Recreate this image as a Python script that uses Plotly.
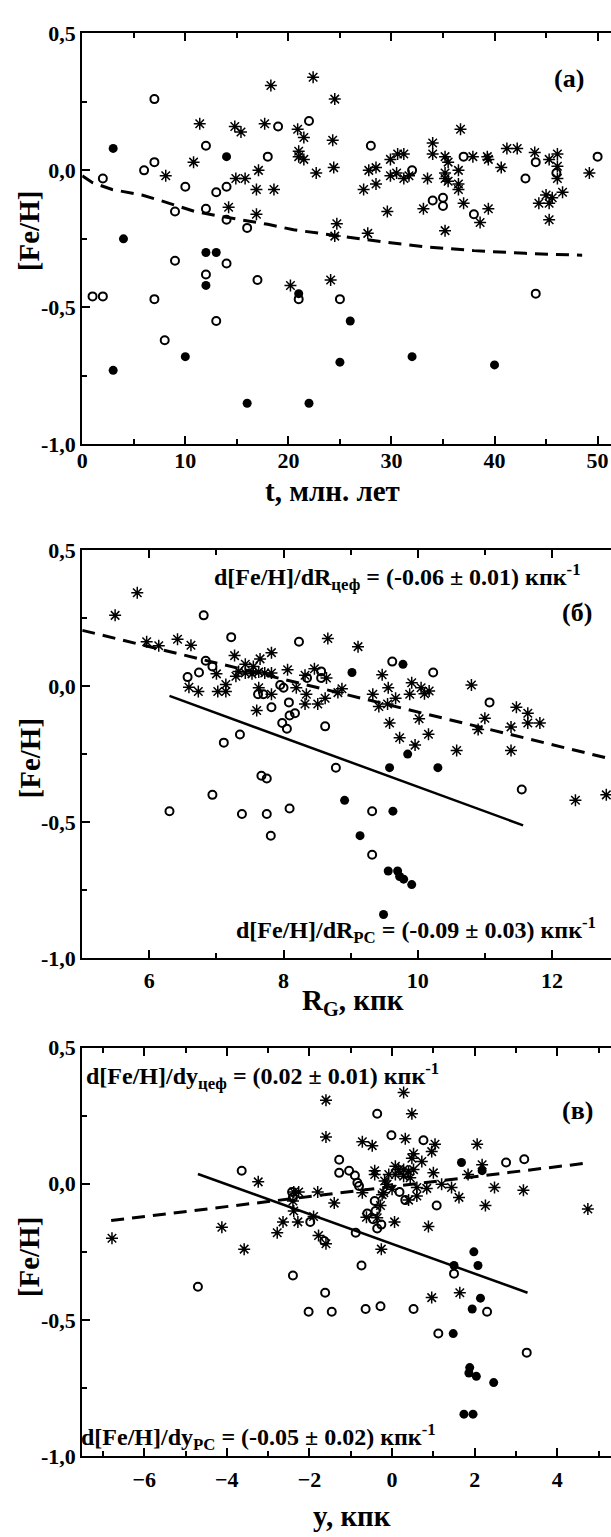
import plotly.graph_objects as go
from plotly.subplots import make_subplots

# ---------------- data ----------------
# panel (a): [Fe/H] against age t (Myr)
a_open_t = [7, 2, 6, 7, 12, 10, 13, 14, 18, 19, 22, 9, 12, 14, 16, 9, 12, 14, 17, 1, 2, 7, 13, 8,
            21, 25, 28, 32, 37, 34, 35, 35, 38, 43, 44, 46, 50, 44]
a_open_fe = [0.26, -0.03, 0.0, 0.03, 0.09, -0.06, -0.08, -0.06, 0.05, 0.16, 0.18, -0.15, -0.14, -0.18,
             -0.21, -0.33, -0.38, -0.34, -0.40, -0.46, -0.46, -0.47, -0.55, -0.62, -0.47, -0.47, 0.09,
             0.0, 0.05, -0.11, -0.10, -0.13, -0.16, -0.03, 0.03, -0.01, 0.05, -0.45]
a_fill_t = [3, 14, 4, 12, 13, 12, 21, 3, 10, 25, 16, 22, 26, 32, 40]
a_fill_fe = [0.08, 0.05, -0.25, -0.30, -0.30, -0.42, -0.45, -0.73, -0.68, -0.70, -0.85, -0.85, -0.55,
             -0.68, -0.71]
a_star_t = [18.3, 22.4, 24.5, 11.4, 14.8, 15.4, 17.7, 20.9, 21.5, 24.3, 10.8, 8.1, 17.1, 14.9, 15.8,
            16.9, 18.6, 21.0, 21.0, 21.5, 22.7, 24.4, 14.2, 16.9, 24.7, 24.5, 20.2, 24.1,
            36.7, 34.0, 34.0, 29.9, 30.6, 31.2, 35.2, 35.5, 37.9, 39.3, 39.4, 41.2, 42.2, 43.9, 45.3,
            46.1, 46.1, 27.8, 28.5, 28.5, 27.3, 29.9, 30.5, 31.2, 31.7, 33.5, 35.2, 35.2, 35.5, 36.5,
            36.5, 36.5, 37.0, 40.65, 39.4, 38.6, 29.6, 33.1, 35.2, 44.3, 45.0, 45.3, 45.6, 46.6, 45.3,
            46.1, 49.2, 27.7]
a_star_fe = [0.31, 0.34, 0.26, 0.17, 0.16, 0.14, 0.17, 0.15, 0.12, 0.11, 0.03, -0.02, 0.0, -0.03, -0.03,
             -0.07, -0.07, 0.07, 0.05, 0.04, -0.01, 0.01, -0.135, -0.16, -0.195, -0.24, -0.42, -0.40,
             0.15, 0.10, 0.06, 0.04, 0.06, 0.06, 0.05, 0.03, 0.05, 0.05, 0.04, 0.08, 0.08, 0.065, 0.04,
             0.06, 0.015, 0.0, 0.01, -0.05, -0.07, -0.02, -0.01, -0.03, -0.02, -0.03, -0.01, -0.03,
             -0.04, 0.0, -0.05, -0.07, -0.12, 0.01, -0.14, -0.19, -0.15, -0.14, -0.22, -0.12, -0.09,
             -0.12, -0.10, -0.08, -0.18, -0.03, -0.01, -0.23]
a_fit_t = [0, 1, 2.9, 5.8, 8.0, 10.9, 13, 15.2, 18, 20.5, 23, 25.5, 29, 33, 38, 43, 48.5]
a_fit_fe = [-0.02, -0.045, -0.07, -0.09, -0.115, -0.15, -0.165, -0.18, -0.197, -0.217, -0.23, -0.243,
            -0.26, -0.278, -0.293, -0.303, -0.31]

# panel (б): [Fe/H] against galactocentric distance R_G (kpc)
b_open_r = [6.81, 7.22, 8.23, 6.84, 6.74, 6.57, 6.94, 7.62, 7.70, 7.82, 7.95, 8.0, 8.08, 8.17, 8.09,
            7.98, 8.05, 8.35, 8.56, 8.56, 8.62, 7.35, 7.11, 8.78, 7.67, 7.75, 6.94, 6.30, 7.38, 7.75,
            8.09, 7.81, 9.62, 10.23, 11.07, 11.55, 9.32, 9.32]
b_open_fe = [0.26, 0.18, 0.163, 0.093, 0.05, 0.033, 0.072, -0.03, -0.03, -0.078, 0.004, -0.006, -0.06,
             -0.10, -0.108, -0.136, -0.157, 0.03, 0.03, 0.054, -0.148, -0.178, -0.208, -0.30, -0.33,
             -0.34, -0.40, -0.46, -0.47, -0.47, -0.45, -0.55, 0.09, 0.05, -0.06, -0.38, -0.46, -0.62]
b_fill_r = [9.02, 9.78, 9.85, 9.58, 10.30, 8.91, 9.63, 9.14, 9.56, 9.70, 9.73, 9.79, 9.91, 9.49]
b_fill_fe = [0.05, 0.08, -0.25, -0.30, -0.30, -0.42, -0.46, -0.55, -0.68, -0.68, -0.70, -0.71, -0.73,
             -0.84]
b_star_r = [5.49, 5.82, 5.96, 6.14, 6.42, 6.62, 6.59, 6.73, 7.0, 7.02, 7.14, 7.14, 7.27, 7.43, 7.33,
            7.55, 7.65, 7.82, 7.43, 7.53, 7.63, 7.72, 7.82, 7.29, 7.63, 7.60, 7.82, 8.06, 8.19, 8.32,
            8.34, 8.32, 8.46, 8.51, 8.64, 8.62, 8.66, 8.81, 8.87, 9.11, 9.47, 9.56, 9.33, 9.42, 9.55,
            9.67, 9.58, 9.73, 9.88, 9.91, 10.05, 10.10, 10.17, 10.02, 10.16, 9.96, 10.58, 10.80, 11.0,
            10.90, 11.39, 11.47, 11.64, 11.64, 11.82, 11.39, 12.35, 12.81]
b_star_fe = [0.26, 0.343, 0.163, 0.148, 0.172, 0.15, -0.004, -0.02, 0.045, -0.02, -0.02, 0.006, 0.112,
             0.08, 0.054, 0.072, 0.10, 0.123, 0.048, 0.045, 0.052, 0.048, 0.048, 0.036, -0.006, -0.09,
             -0.03, 0.06, -0.006, 0.04, -0.03, -0.066, 0.064, -0.066, 0.03, -0.045, 0.175, -0.024,
             -0.01, 0.145, 0.042, -0.006, -0.03, -0.075, -0.066, -0.045, -0.136, -0.19, -0.03, 0.012,
             -0.006, -0.028, -0.018, -0.12, -0.177, -0.217, -0.237, 0.004, -0.118, -0.16, -0.15,
             -0.078, -0.10, -0.136, -0.136, -0.237, -0.42, -0.40]
b_ceph_fit_r = [5.0, 12.88]
b_ceph_fit_fe = [0.205, -0.268]
b_oc_fit_r = [6.30, 11.57]
b_oc_fit_fe = [-0.036, -0.512]

# panel (в): [Fe/H] against y (kpc)
c_open_y = [-3.64, -1.28, -1.28, -2.42, -2.40, -1.98, -1.64, -2.40, -4.70, -1.62, -2.02, -1.46, -0.36,
            -0.016, 0.76, 2.76, 3.2, -1.04, -0.9, -0.84, -0.8, -0.42, -0.6, -0.4, -0.46, -0.36, -0.26,
            -0.88, 0.18, 0.32, 1.08, -0.74, 1.5, -0.64, -0.28, 0.52, 2.3, 1.12, 3.26]
c_open_fe = [0.048, 0.088, 0.04, -0.03, -0.05, -0.14, -0.21, -0.337, -0.378, -0.40, -0.47, -0.47, 0.257,
             0.178, 0.16, 0.078, 0.09, 0.048, 0.03, 0.004, -0.008, -0.063, -0.109, -0.10, -0.13,
             -0.164, -0.15, -0.18, -0.03, -0.06, -0.08, -0.30, -0.33, -0.46, -0.45, -0.46, -0.47,
             -0.55, -0.62]
c_fill_y = [1.68, 2.18, 1.98, 2.08, 1.5, 2.14, 1.94, 1.48, 1.88, 1.86, 2.04, 2.46, 1.74, 1.96]
c_fill_fe = [0.078, 0.048, -0.25, -0.30, -0.30, -0.42, -0.46, -0.55, -0.675, -0.695, -0.707, -0.73,
             -0.846, -0.846]
c_star_y = [-1.6, -1.6, -3.24, -6.78, -4.12, -3.58, -2.78, -2.64, -2.4, -2.38, -2.26, -2.38, -2.28, -1.90,
            -1.8, -1.78, -1.6, -1.4, 0.28, 0.48, -0.72, -0.48, 0.32, 1.04, 2.06, 0.96, 0.52, 0.48, 0.72,
            -0.42, -0.42, -0.08, 0.08, 0.16, 0.28, 0.4, 0.52, 0.08, 0.28, 0.44, -0.12, -0.18, 0.0, -0.2,
            -0.72, 0.6, 0.84, 1.0, 1.2, 1.44, 1.62, 1.84, 2.18, 2.48, 2.26, 3.18, 0.4, 0.6, -0.24,
            -0.28, -0.36, 0.06, 0.88, -0.26, 0.96, 1.64, 4.74, -0.62]
c_star_fe = [0.307, 0.172, 0.007, -0.20, -0.16, -0.24, -0.18, -0.14, -0.063, -0.03, -0.03, -0.10, -0.14,
             -0.12, -0.03, -0.19, -0.22, -0.071, 0.335, 0.257, 0.154, 0.14, 0.165, 0.145, 0.145, 0.118,
             0.11, 0.094, 0.082, 0.048, 0.034, 0.034, 0.064, 0.052, 0.052, 0.046, 0.052, 0.034, 0.028,
             0.022, -0.002, 0.01, -0.02, -0.033, -0.033, -0.014, -0.017, 0.04, -0.002, -0.014, -0.05,
             0.034, 0.07, -0.014, -0.08, -0.024, -0.06, -0.045, -0.04, -0.08, -0.125, -0.14, -0.157,
             -0.24, -0.418, -0.40, -0.093, -0.123]
c_ceph_fit_y = [-6.8, 4.72]
c_ceph_fit_fe = [-0.135, 0.076]
c_oc_fit_y = [-4.70, 3.28]
c_oc_fit_fe = [0.036, -0.40]

fe_ticks = [-1.0, -0.5, 0.0, 0.5]
fe_ticktext = ['-1,0', '-0,5', '0,0', '0,5']

# ---------------- figure ----------------
W, H = 611, 1537
FONT = 'Liberation Serif, Times New Roman, serif'

fig = make_subplots(rows=3, cols=1)

open_marker = dict(symbol='circle-open', size=8, color='black', line=dict(color='black', width=2))
fill_marker = dict(symbol='circle', size=9, color='black')
star_marker = dict(symbol='asterisk-open', size=10, color='black', line=dict(color='black', width=1.5))
dash_line = dict(color='black', width=3, dash='13px,8px')
solid_line = dict(color='black', width=2.5)

panels = [
    (1, a_open_t, a_open_fe, a_fill_t, a_fill_fe, a_star_t, a_star_fe),
    (2, b_open_r, b_open_fe, b_fill_r, b_fill_fe, b_star_r, b_star_fe),
    (3, c_open_y, c_open_fe, c_fill_y, c_fill_fe, c_star_y, c_star_fe),
]
for row, ox, oy, fx, fy, sx, sy in panels:
    fig.add_trace(go.Scatter(x=sx, y=sy, mode='markers', marker=star_marker), row=row, col=1)
    fig.add_trace(go.Scatter(x=ox, y=oy, mode='markers', marker=open_marker), row=row, col=1)
    fig.add_trace(go.Scatter(x=fx, y=fy, mode='markers', marker=fill_marker), row=row, col=1)

# fitted lines
fig.add_trace(go.Scatter(x=a_fit_t, y=a_fit_fe, mode='lines', line=dash_line), row=1, col=1)
fig.add_trace(go.Scatter(x=b_ceph_fit_r, y=b_ceph_fit_fe, mode='lines', line=dash_line), row=2, col=1)
fig.add_trace(go.Scatter(x=b_oc_fit_r, y=b_oc_fit_fe, mode='lines', line=solid_line), row=2, col=1)
fig.add_trace(go.Scatter(x=c_ceph_fit_y, y=c_ceph_fit_fe, mode='lines', line=dash_line), row=3, col=1)
fig.add_trace(go.Scatter(x=c_oc_fit_y, y=c_oc_fit_fe, mode='lines', line=solid_line), row=3, col=1)

# axes: pixel positions of the frames measured on the picture
x_dom = [77 / W, 1.0]
y_doms = [[1 - 439.5 / H, 1 - 21.7 / H],
          [1 - 961.7 / H, 1 - 547 / H],
          [1 - 1468 / H, 1 - 1052.7 / H]]
x_ranges = [[0, 51.3], [5, 12.88], [-7.5, 5.3]]
x_dticks = [(10, 5), (2, 1), (2, 1)]
x_standoff = [-5, 2, 2]

axis_common = dict(showline=True, linewidth=2, linecolor='black', ticks='inside', ticklen=8,
                   tickwidth=2, tickcolor='black', showgrid=False, zeroline=False)

for i in range(3):
    fig.update_xaxes(row=i + 1, col=1, domain=x_dom, range=x_ranges[i], mirror='ticks',
                     tick0=0, dtick=x_dticks[i][0], ticklabelstandoff=x_standoff[i],
                     minor=dict(ticks='inside', ticklen=5, tickwidth=1.5, tickcolor='black',
                                tick0=0, dtick=x_dticks[i][1]),
                     **axis_common)
    fig.update_yaxes(row=i + 1, col=1, domain=y_doms[i], range=[-1.0, 0.5], mirror=False,
                     tickvals=fe_ticks, ticktext=fe_ticktext,
                     minor=dict(ticks='inside', ticklen=5, tickwidth=1.5, tickcolor='black',
                                tick0=0, dtick=0.25),
                     **axis_common)

# text
eq_font = dict(family=FONT, size=24, color='black', weight='bold')
lab_font = dict(family=FONT, size=26, color='black', weight='bold')
notes = [
    # (text, xref, yref, x, y, xanchor, xshift)
    ('(a)', 'x', 'y', 47.2, 0.336, 'center', 0),
    ('d[Fe/H]/dR<sub>цеф</sub> = (-0.06 ± 0.01) кпк<sup>-1</sup>', 'x2', 'y2', 6.93, 0.40, 'left', 0),
    ('(б)', 'x2', 'y2', 12.38, 0.27, 'center', 0),
    ('d[Fe/H]/dR<sub>PC</sub> = (-0.09 ± 0.03) кпк<sup>-1</sup>', 'x2', 'y2', 7.26, -0.895, 'left', 0),
    ('d[Fe/H]/dy<sub>цеф</sub> = (0.02 ± 0.01) кпк<sup>-1</sup>', 'x3', 'y3', -7.45, 0.395, 'left', 0),
    ('(в)', 'x3', 'y3', 4.5, 0.27, 'center', 0),
    ('d[Fe/H]/dy<sub>PC</sub> = (-0.05 ± 0.02) кпк<sup>-1</sup>', 'x3', 'y3', -7.49, -0.93, 'left', -4),
]
for text, xr, yr, x, y, xa, xs in notes:
    f = lab_font if text.startswith('(') and len(text) == 3 else eq_font
    fig.add_annotation(text=text, xref=xr, yref=yr, x=x, y=y, xanchor=xa, yanchor='middle',
                       xshift=xs, showarrow=False, font=f)

# axis titles (placed in pixels)
titles = [
    ('t, млн. лет', 330, 487, 0),
    ('R<sub>G</sub>, кпк', 350, 1006, 0),
    ('y, кпк', 349, 1529, 0),
    ('[Fe/H]', 24, 222, -90),
    ('[Fe/H]', 24, 758, -90),
    ('[Fe/H]', 24, 1265, -90),
]
for text, px, py, ang in titles:
    fig.add_annotation(text=text, xref='paper', yref='paper', x=px / W, y=1 - py / H,
                       xanchor='center', yanchor='middle', textangle=ang, showarrow=False,
                       font=dict(family=FONT, size=29, color='black', weight='bold'))

fig.update_layout(
    width=W, height=H,
    margin=dict(l=0, r=0, t=0, b=0),
    paper_bgcolor='white', plot_bgcolor='white',
    showlegend=False,
    font=dict(family=FONT, size=22, color='black', weight='bold'),
)

# the page's default 8px body margin would shift the whole figure
fig.write_html("out.html", config={'responsive': False, 'displayModeBar': False},
               post_script="document.body.style.margin='0px';")
